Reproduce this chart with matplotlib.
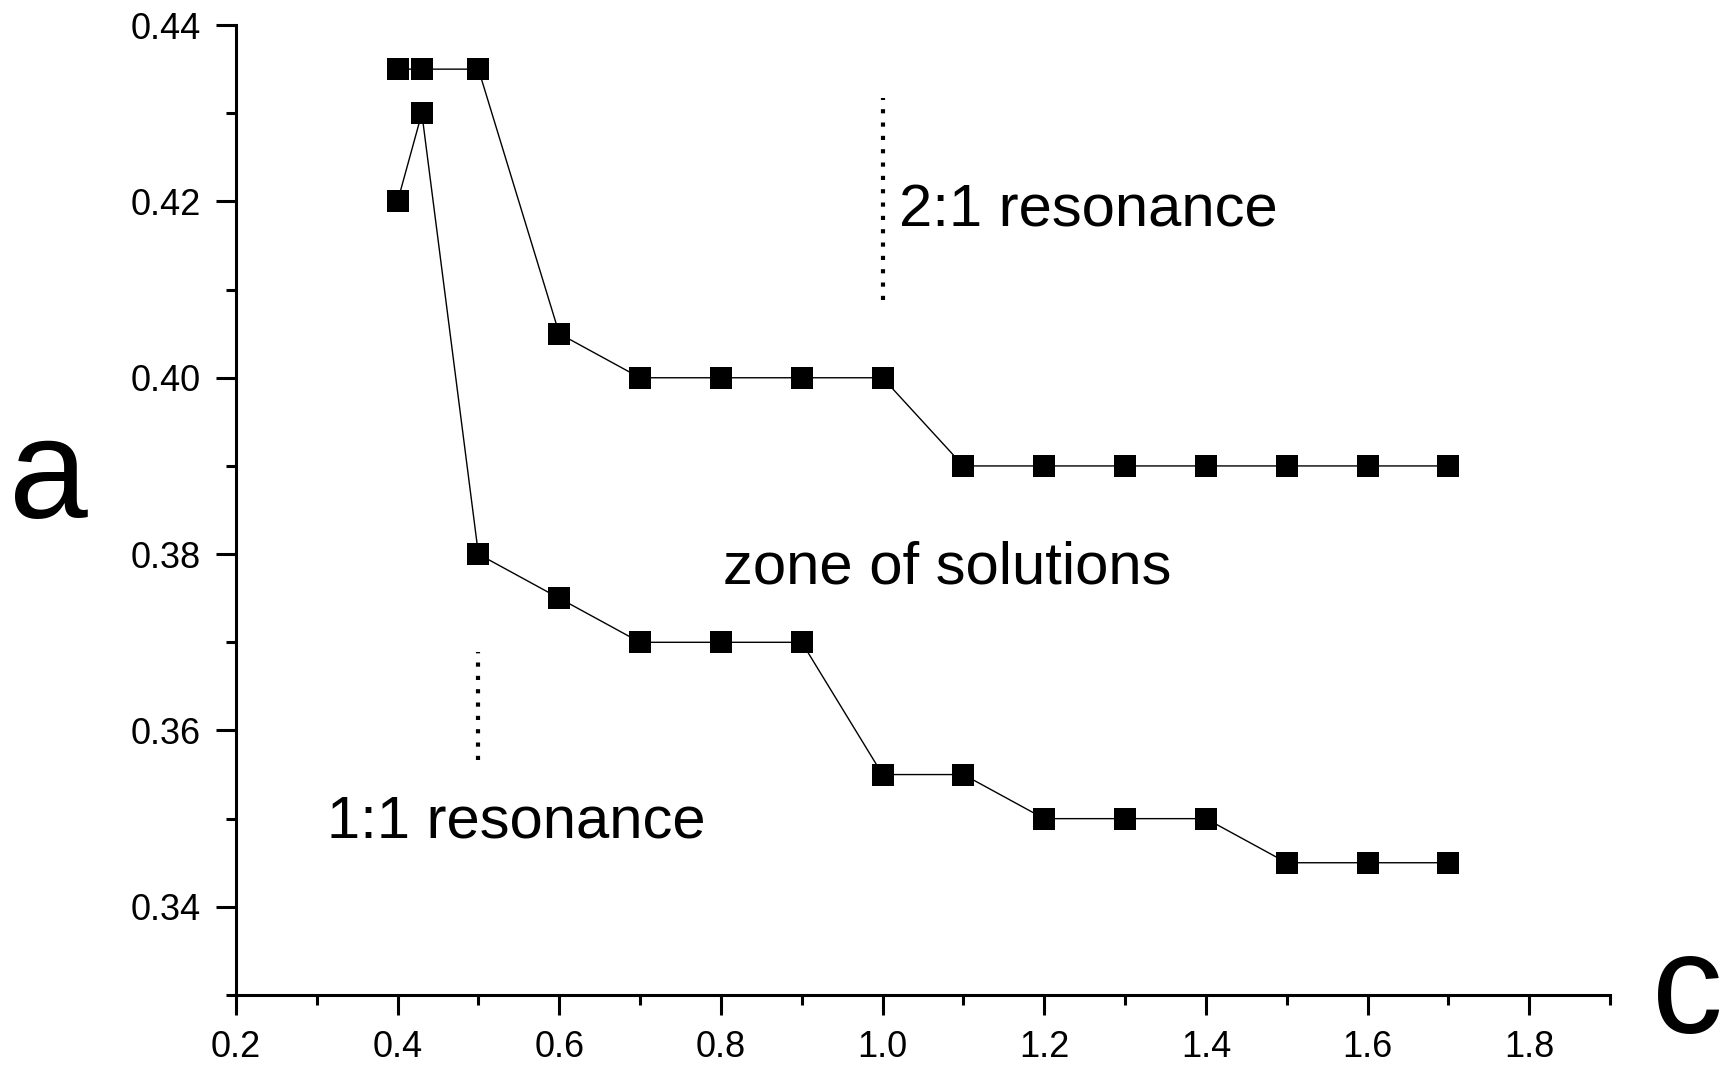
import matplotlib
matplotlib.use('Agg')
import matplotlib.pyplot as plt
from matplotlib.ticker import MultipleLocator

plt.rcParams['font.family'] = ['Liberation Sans', 'DejaVu Sans']

# upper boundary (2:1 side) and lower boundary (1:1 side)
c_upper = [0.40, 0.43, 0.50, 0.60, 0.70, 0.80, 0.90, 1.00, 1.10, 1.20, 1.30, 1.40, 1.50, 1.60, 1.70]
a_upper = [0.435, 0.435, 0.435, 0.405, 0.400, 0.400, 0.400, 0.400, 0.390, 0.390, 0.390, 0.390, 0.390, 0.390, 0.390]

c_lower = [0.40, 0.43, 0.50, 0.60, 0.70, 0.80, 0.90, 1.00, 1.10, 1.20, 1.30, 1.40, 1.50, 1.60, 1.70]
a_lower = [0.420, 0.430, 0.380, 0.375, 0.370, 0.370, 0.370, 0.355, 0.355, 0.350, 0.350, 0.350, 0.345, 0.345, 0.345]

# resonance markers: x, y from, y to
res11 = (0.5, 0.3566, 0.3689)
res21 = (1.0, 0.4088, 0.4317)

fig = plt.figure(figsize=(17.22, 10.66), dpi=100)
ax = fig.add_axes([0.1370, 0.0666, 0.7980, 0.9099])

ax.plot(c_upper, a_upper, 'ks-', lw=1.0, ms=16, mew=0)
ax.plot(c_lower, a_lower, 'ks-', lw=1.0, ms=16, mew=0)

ax.plot([res11[0], res11[0]], [res11[1], res11[2]], color='k', lw=3, ls=(0, (1, 2.2)))
ax.plot([res21[0], res21[0]], [res21[1], res21[2]], color='k', lw=3, ls=(0, (1, 2.2)))

ax.text(1.0205, 0.4171, '2:1 resonance', fontsize=43, va='baseline', ha='left')
ax.text(0.8027, 0.3767, 'zone of solutions', fontsize=43, va='baseline', ha='left')
ax.text(0.3126, 0.3479, '1:1 resonance', fontsize=43, va='baseline', ha='left')

ax.set_xlim(0.2, 1.9)
ax.set_ylim(0.33, 0.44)
ax.xaxis.set_major_locator(MultipleLocator(0.2))
ax.xaxis.set_minor_locator(MultipleLocator(0.1))
ax.yaxis.set_major_locator(MultipleLocator(0.02))
ax.yaxis.set_minor_locator(MultipleLocator(0.01))
ax.set_xticks([0.2, 0.4, 0.6, 0.8, 1.0, 1.2, 1.4, 1.6, 1.8])
ax.set_xticklabels(['0.2', '0.4', '0.6', '0.8', '1.0', '1.2', '1.4', '1.6', '1.8'])
ax.set_yticks([0.34, 0.36, 0.38, 0.40, 0.42, 0.44])
ax.set_yticklabels(['0.34', '0.36', '0.38', '0.40', '0.42', '0.44'])

for s in ['top', 'right']:
    ax.spines[s].set_visible(False)
for s in ['left', 'bottom']:
    ax.spines[s].set_linewidth(2.2)
ax.tick_params(which='major', direction='out', length=14.4, width=2.2, labelsize=26, pad=11)
ax.tick_params(which='minor', direction='out', length=7.2, width=2.2)

fig.text(9 / 1722, 0.514, 'a', fontsize=102, ha='left', va='baseline')
fig.text(1652 / 1722, 0.031, 'c', fontsize=102, ha='left', va='baseline')

fig.savefig('out.png', dpi=100)
